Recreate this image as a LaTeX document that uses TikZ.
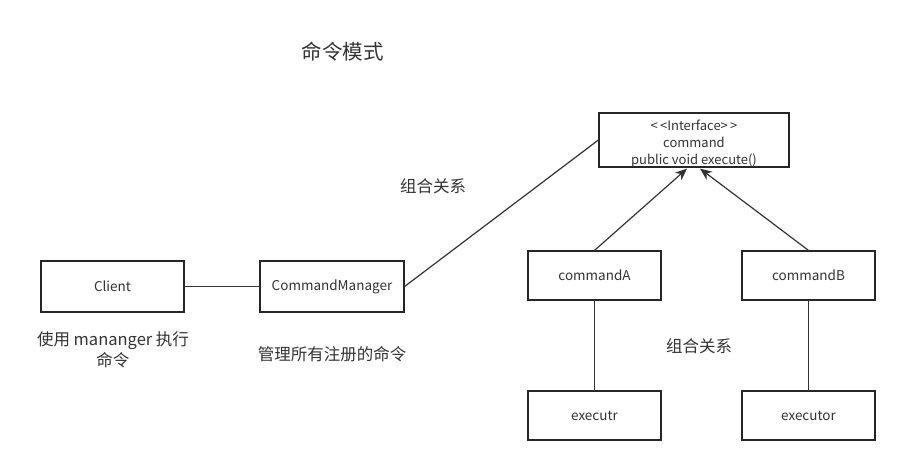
\documentclass[tikz,border=0pt]{standalone}
\usepackage{fontspec}
\setmainfont{Noto Sans CJK SC}
\usetikzlibrary{arrows.meta}

\tikzset{
  umlbox/.style={draw=black!85, line width=1.2pt, fill=white, text=black!80,
                 minimum width=#1, minimum height=49pt, inner sep=0pt,
                 font=\fontsize{13.5}{15}\selectfont},
  umlbox/.default=133pt,
  link/.style={draw=black!80, line width=1.2pt},
  note/.style={text=black!80, font=\fontsize{16.5}{21}\selectfont, align=center}
}

\begin{document}
\begin{tikzpicture}[x=1pt, y=-1pt, >={Stealth[length=12pt,width=10pt]}, line cap=round]
\useasboundingbox (0,0) rectangle (899,465);
\pgfmathsetmacro{\xa}{594.5}
\pgfmathsetmacro{\xb}{808.5}

% title
\node [note, font=\fontsize{20.5}{24}\selectfont] (title) at (342.5,52) {命令模式};

% left part
\node [umlbox=143pt, minimum height=51pt] (client) at (112.5,286.5) {Client};
\node [umlbox=144pt, minimum height=51pt] (manager) at (332,286.5) {CommandManager};
\node [note] (useNote) at (113,350) {使用 mananger 执行\\命令};
\node [note] (manNote) at (332,354) {管理所有注册的命令};

% interface
\node [umlbox=190pt, minimum height=54pt, align=center,
       font=\fontsize{13}{17}\selectfont] (iface) at (694,140)
      {\rule{0pt}{17pt}{<}\,{<}Interface{>}\,{>}\\command\\public void execute()};
\node [note] (relA) at (433,186) {组合关系};

% implementations
\node [umlbox] (cmdA) at (\xa,275.5) {commandA};
\node [umlbox] (cmdB) at (\xb,275.5) {commandB};
\node [umlbox] (execA) at (\xa,415.5) {executr};
\node [umlbox] (execB) at (\xb,415.5) {executor};
\node [note] (relB) at (699,346) {组合关系};

\coordinate (tipA) at ([xshift=-7pt,yshift=-1pt]iface.south);
\coordinate (tipB) at ([xshift=6pt,yshift=-1pt]iface.south);

% connectors
\draw [link] (client) -- (manager);
\draw [link] (manager.east) -- (iface.west);
\draw [link,->] (cmdA.north) -- (tipA);
\draw [link,->] (cmdB.north) -- (tipB);
\draw [link] (cmdA) -- (execA);
\draw [link] (cmdB) -- (execB);
\end{tikzpicture}
\end{document}
